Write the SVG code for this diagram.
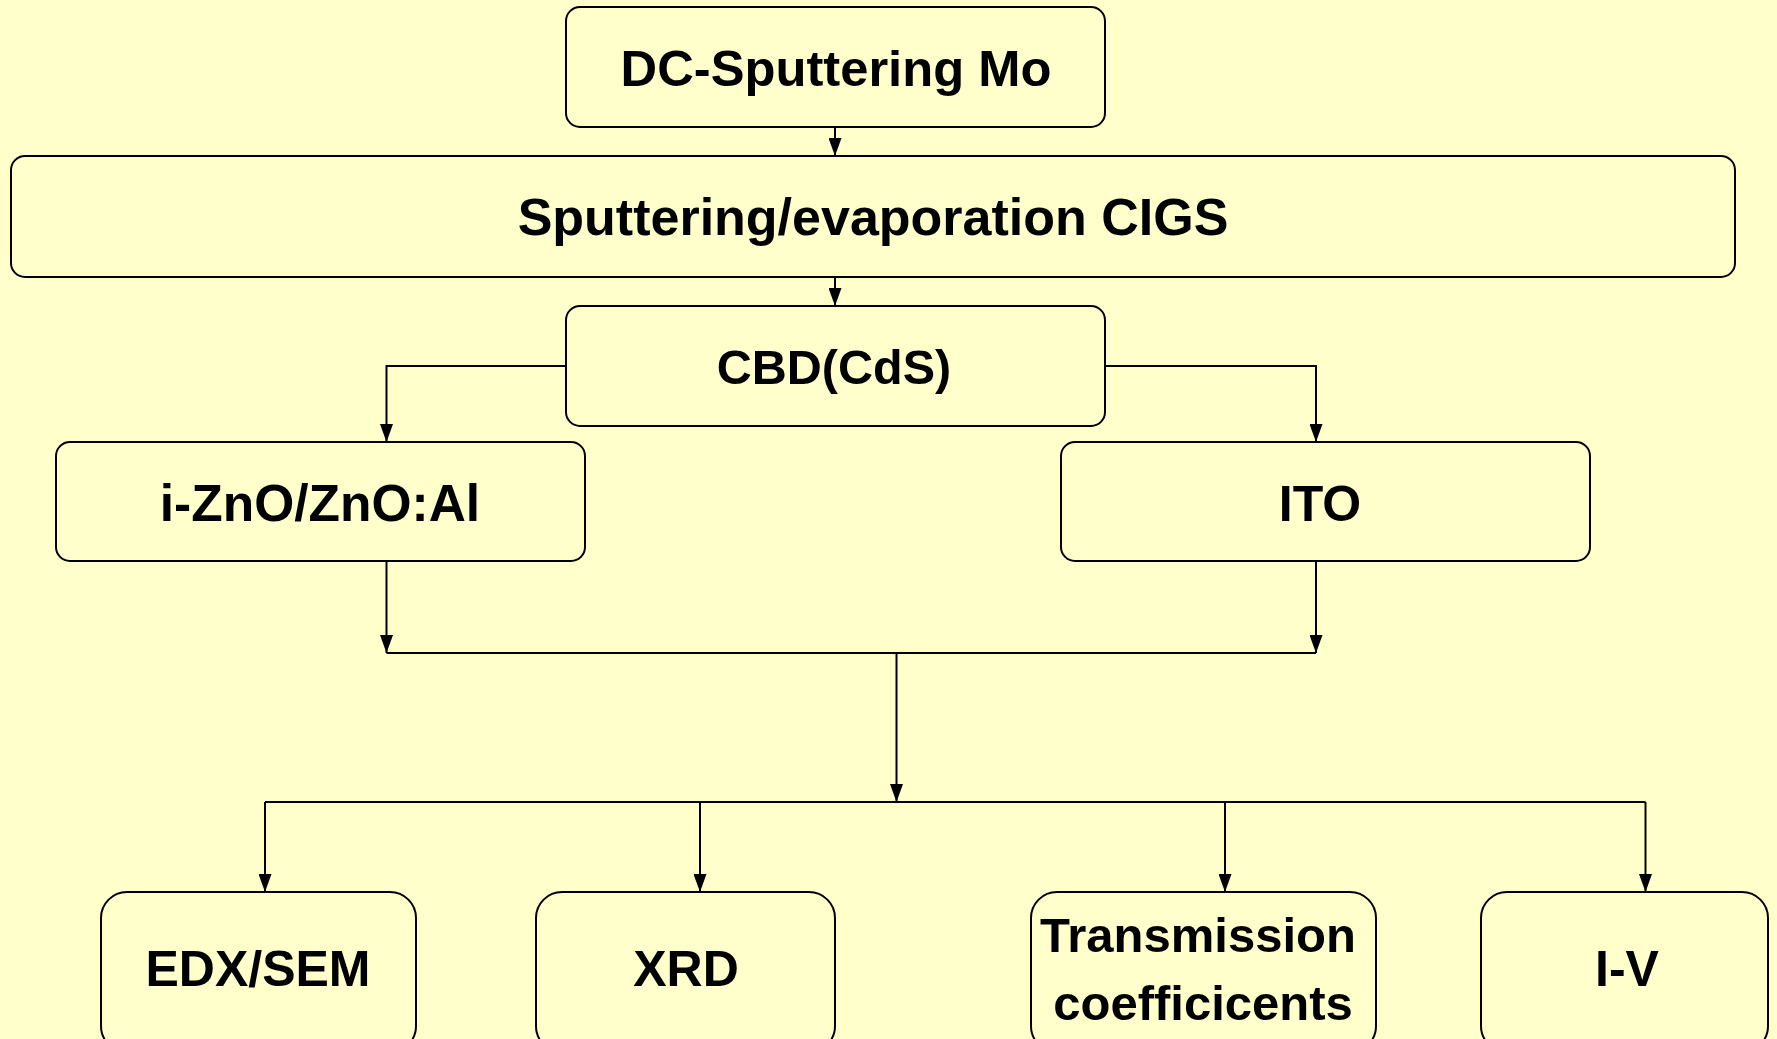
<svg xmlns="http://www.w3.org/2000/svg" width="1777" height="1039" viewBox="0 0 1777 1039">
  <style>
    .box { fill: none; stroke: #000; stroke-width: 2; }
    .lbl { font-family: "Liberation Sans", Arial, sans-serif; font-weight: bold; font-size: 50px; fill: #000; text-anchor: middle; }
    .wire { fill: none; stroke: #000; stroke-width: 2; }
  </style>
  <defs>
    <marker id="arrow" viewBox="0 0 18 13" refX="18" refY="6.5" markerWidth="18" markerHeight="13" markerUnits="userSpaceOnUse" orient="auto">
      <path d="M0,0 L18,6.5 L0,13 z" fill="#000"/>
    </marker>
  </defs>
  <rect width="1777" height="1039" fill="#FFFFCC"/>

  <g id="connectors">
    <path class="wire" d="M835,127 V156" marker-end="url(#arrow)"/>
    <path class="wire" d="M835,277 V306" marker-end="url(#arrow)"/>
    <path class="wire" d="M566,366 H386.5 V442" marker-end="url(#arrow)"/>
    <path class="wire" d="M1105,366 H1316 V442" marker-end="url(#arrow)"/>
    <path class="wire" d="M386.5,561 V653" marker-end="url(#arrow)"/>
    <path class="wire" d="M1316,561 V653" marker-end="url(#arrow)"/>
    <path class="wire" d="M386.5,653 H1316"/>
    <path class="wire" d="M896.5,653 V802" marker-end="url(#arrow)"/>
    <path class="wire" d="M265,802 H1645.5"/>
    <path class="wire" d="M265,802 V892" marker-end="url(#arrow)"/>
    <path class="wire" d="M700,802 V892" marker-end="url(#arrow)"/>
    <path class="wire" d="M1225,802 V892" marker-end="url(#arrow)"/>
    <path class="wire" d="M1645.5,802 V892" marker-end="url(#arrow)"/>
  </g>

  <g id="dc-sputtering">
    <rect class="box" x="566" y="7" width="539" height="120" rx="14"/>
    <text class="lbl" x="836" y="86" style="font-size:50.7px">DC-Sputtering Mo</text>
  </g>
  <g id="cigs">
    <rect class="box" x="11" y="156" width="1724" height="121" rx="14"/>
    <text class="lbl" x="873" y="235" style="font-size:52px">Sputtering/evaporation CIGS</text>
  </g>
  <g id="cbd">
    <rect class="box" x="566" y="306" width="539" height="120" rx="14"/>
    <text class="lbl" x="834" y="384" style="font-size:48.5px">CBD(CdS)</text>
  </g>
  <g id="zno">
    <rect class="box" x="56" y="442" width="529" height="119" rx="14"/>
    <text class="lbl" x="320" y="521" style="font-size:51.5px">i-ZnO/ZnO:Al</text>
  </g>
  <g id="ito">
    <rect class="box" x="1061" y="442" width="529" height="119" rx="14"/>
    <text class="lbl" x="1320" y="521">ITO</text>
  </g>
  <g id="edx-sem">
    <rect class="box" x="101" y="892" width="315" height="160" rx="26"/>
    <text class="lbl" x="258" y="986">EDX/SEM</text>
  </g>
  <g id="xrd">
    <rect class="box" x="536" y="892" width="299" height="160" rx="26"/>
    <text class="lbl" x="686" y="986">XRD</text>
  </g>
  <g id="transmission">
    <rect class="box" x="1031" y="892" width="345" height="160" rx="26"/>
    <text class="lbl" x="1198" y="952" style="font-size:49px">Transmission</text>
    <text class="lbl" x="1203" y="1020" style="font-size:49px">coefficicents</text>
  </g>
  <g id="iv">
    <rect class="box" x="1481" y="892" width="287" height="160" rx="26"/>
    <text class="lbl" x="1627" y="986">I-V</text>
  </g>
</svg>
